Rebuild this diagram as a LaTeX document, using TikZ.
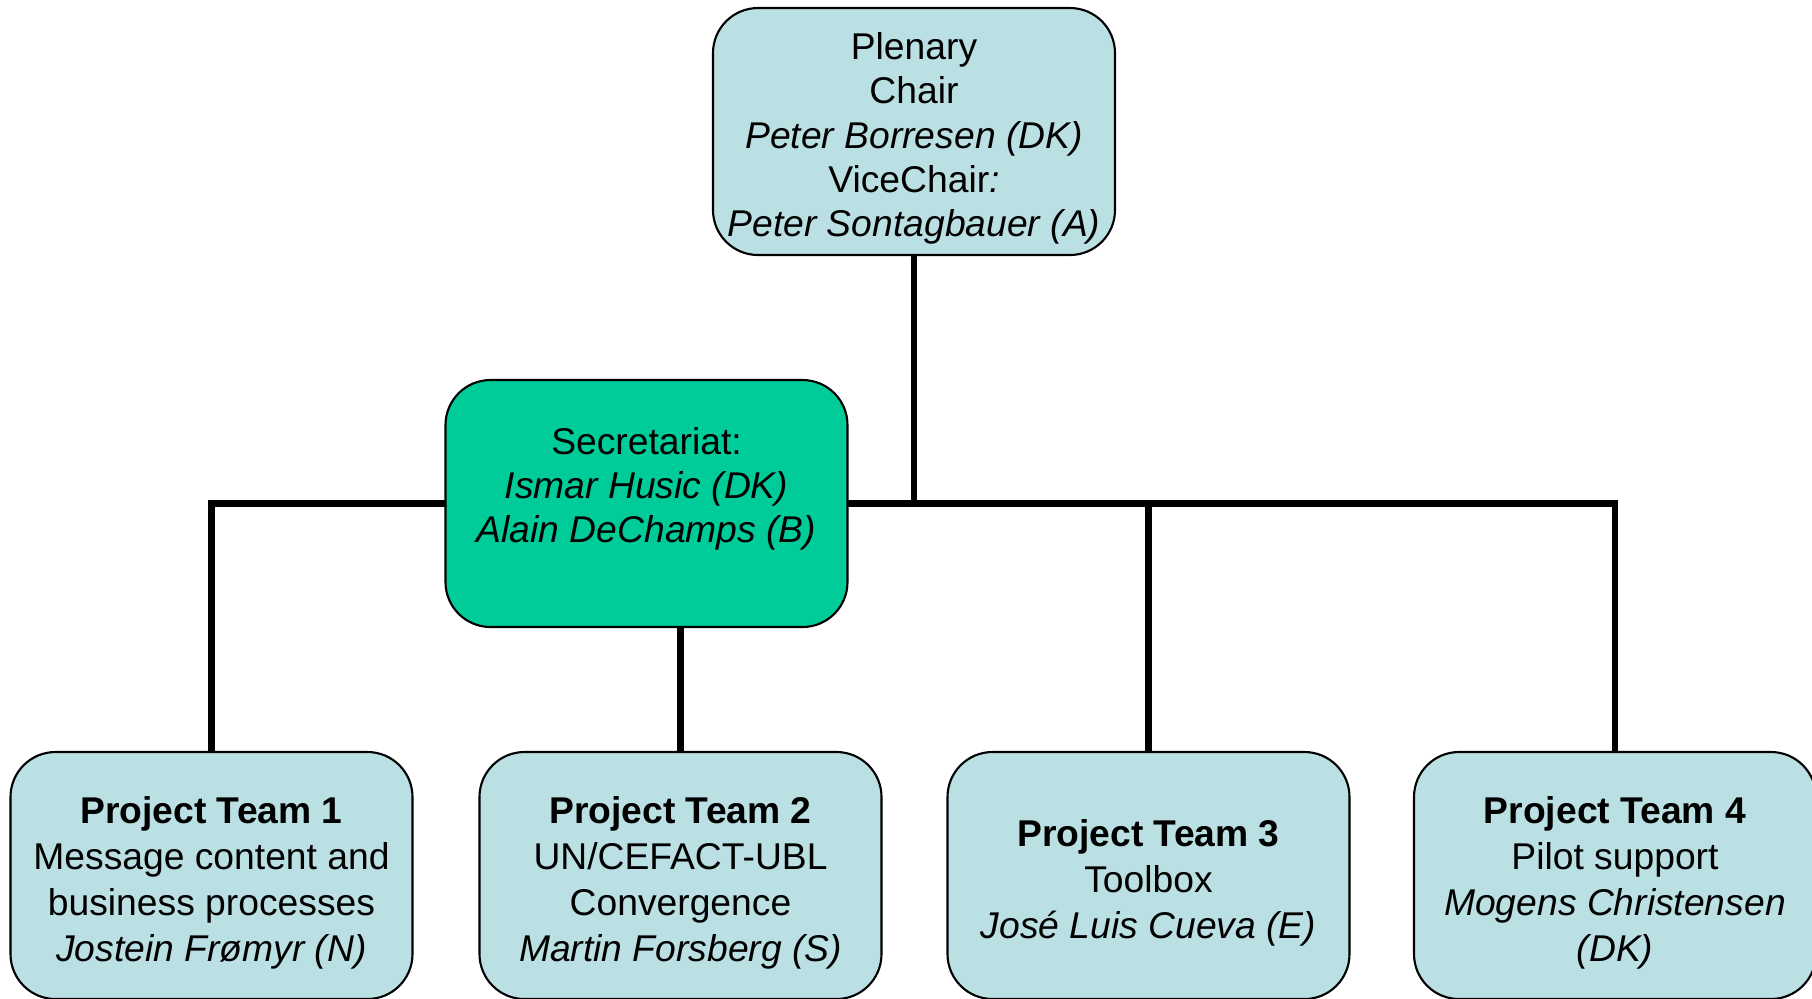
\documentclass[tikz,border=0pt]{standalone}
\usepackage{fontspec}
\setmainfont{Liberation Sans}
\definecolor{boxblue}{RGB}{186,224,228}
\definecolor{secgreen}{RGB}{0,204,153}
\newcommand{\topgap}[1]{\rule{0pt}{#1}}

\begin{document}
\begin{tikzpicture}[
    box/.style={draw, line width=0.6pt, rounded corners=0.45cm, fill=boxblue,
        minimum width=4.02cm, minimum height=2.47cm, inner sep=0pt, align=center,
        font=\fontsize{10.6}{12.6}\selectfont},
    teambox/.style={box, font=\fontsize{10.6}{13.1}\selectfont},
    secbox/.style={box, fill=secgreen},
    conn/.style={line width=1.8pt}]
            \useasboundingbox (0,0) rectangle (18.12,-9.98);
            \clip (0,0) rectangle (18.12,-9.98);

            \coordinate (busL) at (2.115,-5.035);
            \coordinate (busR) at (16.15,-5.035);
            \draw[conn, line cap=rect] (busL) -- (busR);

            \node[box] (plenary) at (9.14,-1.315) {\topgap{11.7pt}Plenary\\Chair\\\textit{Peter Borresen (DK)}\\ViceChair\textit{:}\\\textit{Peter Sontagbauer (A)}};
            \node[secbox] (sec) at (6.465,-5.035) {\topgap{9.7pt}Secretariat:\\\textit{Ismar Husic (DK)}\\\textit{Alain DeChamps (B)}\\ };

            \node[teambox] (pt1) at (2.115,-8.755) {\topgap{11.7pt}\textbf{Project Team 1}\\Message content and\\business processes\\\textit{Jostein Frømyr (N)}};
            \node[teambox] (pt2) at (6.805,-8.755) {\topgap{11.7pt}\textbf{Project Team 2}\\UN/CEFACT-UBL\\Convergence\\\textit{Martin Forsberg (S)}};
            \node[teambox] (pt3) at (11.485,-8.755) {\topgap{11.7pt}\textbf{Project Team 3}\\Toolbox\\\textit{José Luis Cueva (E)}};
            \node[teambox] (pt4) at (16.15,-8.755) {\topgap{11.7pt}\textbf{Project Team 4}\\Pilot support\\\textit{Mogens Christensen}\\\textit{(DK)}};

            \draw[conn] (plenary.south) -- (plenary.south |- busL);
            \draw[conn] (pt1.north) -- (pt1.north |- busL);
            \draw[conn] (pt2.north) -- (pt2.north |- sec.south);
            \draw[conn] (pt3.north) -- (pt3.north |- busL);
            \draw[conn] (pt4.north) -- (pt4.north |- busL);
        \end{tikzpicture}
\end{document}
